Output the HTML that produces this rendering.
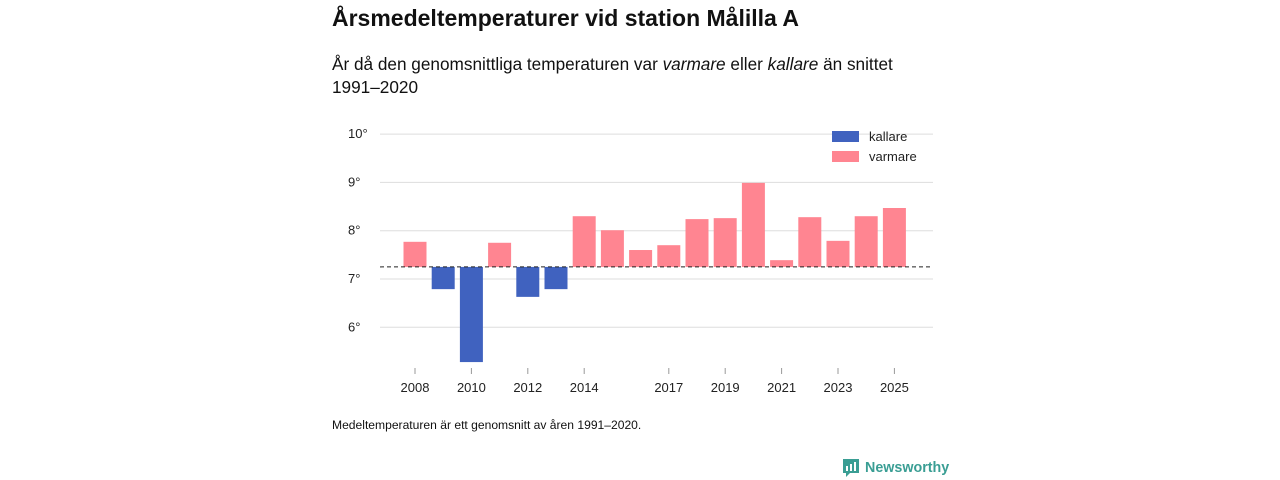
<!DOCTYPE html>
<html><head><meta charset="utf-8"><style>
body{margin:0;width:1280px;height:480px;background:#fff;font-family:"Liberation Sans",sans-serif;color:#111;position:relative;overflow:hidden}
.t{position:absolute;left:332px;top:5px;font-size:23px;font-weight:bold}
.s{position:absolute;left:332px;top:53px;font-size:17.2px;line-height:23px;width:620px}
.f{position:absolute;left:332px;top:418px;font-size:12.1px}
.logo{position:absolute;left:842px;top:458px;font-size:14.3px;color:#3a9e94;font-weight:bold;display:flex;align-items:center;gap:5px}
svg{position:absolute;left:0;top:0}
svg text{font-family:"Liberation Sans",sans-serif;font-size:13px;fill:#222}
</style></head><body>
<div class="t">Årsmedeltemperaturer vid station Målilla A</div>
<div class="s">År då den genomsnittliga temperaturen var <i>varmare</i> eller <i>kallare</i> än snittet<br>1991–2020</div>
<svg width="1280" height="480" id="c"></svg>
<div class="f">Medeltemperaturen är ett genomsnitt av åren 1991–2020.</div>
<div class="logo"><svg style="position:static" width="18" height="20" viewBox="0 0 18 20"><path d="M1 1h16v14H8l-4 4v-4H1z" fill="#3a9e94"/><rect x="4" y="8" width="2" height="5" fill="#fff"/><rect x="8" y="6" width="2" height="7" fill="#fff"/><rect x="12" y="4" width="2" height="9" fill="#fff"/></svg>Newsworthy</div>
<script>
const years=[2008,2009,2010,2011,2012,2013,2014,2015,2016,2017,2018,2019,2020,2021,2022,2023,2024,2025];
const temps=[7.77,6.79,5.28,7.75,6.63,6.79,8.30,8.01,7.60,7.70,8.24,8.26,8.99,7.39,8.28,7.79,8.30,8.47];
const baseline=7.25;
const yTicks=[6,7,8,9,10];
const xTickYears=[2008,2010,2012,2014,2017,2019,2021,2023,2025];
const NS='http://www.w3.org/2000/svg';
const svg=document.getElementById('c');
const y=v=>279-(v-7)*48.3;
const x=yr=>415+(yr-2008)*28.2;
function mk(t,a){const e=document.createElementNS(NS,t);for(const k in a)e.setAttribute(k,a[k]);svg.appendChild(e);return e;}
yTicks.forEach(v=>{
 const l=mk('line',{x1:380,x2:933,y1:y(v),y2:y(v),stroke:'#ddd','stroke-width':1});
 
 
 const t=mk('text',{x:348,y:y(v)+4});t.textContent=v+'°';
 
 
});
years.forEach((yr,i)=>{
 const v=temps[i];const top=Math.min(y(v),y(baseline)),h=Math.abs(y(v)-y(baseline));
 const r=mk('rect',{x:x(yr)-11.5,y:top,width:23,height:h,fill:v>=baseline?'#ff8591':'#4062bf'});
 
 
});
const bl=mk('line',{x1:380,x2:933,y1:y(baseline),y2:y(baseline),stroke:'#222','stroke-dasharray':'4,3','stroke-width':1});


xTickYears.forEach(yr=>{
 const k=mk('line',{x1:x(yr),x2:x(yr),y1:368,y2:374,stroke:'#999'});
 
 
 const t=mk('text',{x:x(yr),y:392,'text-anchor':'middle'});t.textContent=yr;
 
 
});
[['kallare','#4062bf',131],['varmare','#ff8591',151]].forEach(([n,c,yy])=>{
 const r=mk('rect',{x:832,y:yy,width:27,height:11,fill:c});
 
 
 const t=mk('text',{x:869,y:yy+10});t.textContent=n;
 
 
});
</script>
</body></html>
